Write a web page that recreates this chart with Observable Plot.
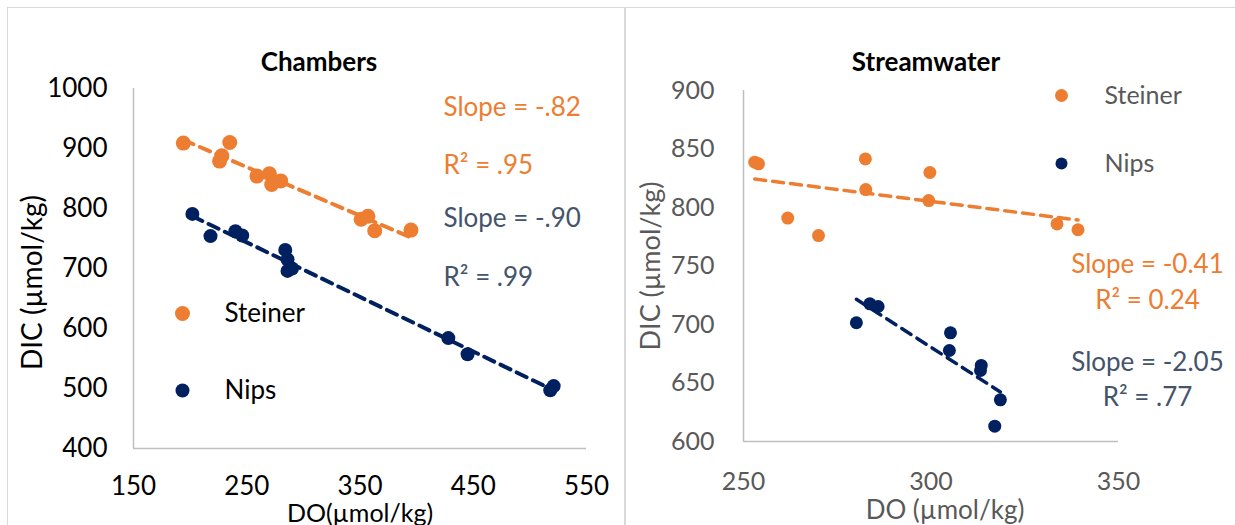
<!DOCTYPE html>
<html><head><meta charset="utf-8">
<script src="https://cdn.jsdelivr.net/npm/d3@7"></script>
<script src="https://cdn.jsdelivr.net/npm/@observablehq/plot@0.6"></script>
<style>
body{margin:0;background:#fff;}
#wrap{position:relative;width:1235px;height:525px;overflow:hidden;background:#fff;font-family:Lato,sans-serif;}
.panel{position:absolute;border:1px solid #D9D9D9;box-sizing:border-box;}
.chart{position:absolute;top:0;}
</style></head><body>
<div id="wrap">
<div class="panel" style="left:7px;top:7px;width:618px;height:600px"></div>
<div class="panel" style="left:625px;top:7px;width:700px;height:600px"></div>
<div id="left" class="chart" style="left:0px"></div>
<div id="right" class="chart" style="left:620px"></div>
</div>
<script>
// ---- Chambers panel data ----
const chamSteinerDO  = [194, 235, 228, 226, 259, 270, 272, 280, 351, 357, 363, 395];
const chamSteinerDIC = [909, 910, 888, 879, 854, 858, 840, 846, 782, 787, 763, 764];
const chamNipsDO     = [202, 218, 240, 246, 284, 286, 286, 290, 428, 445, 518, 521];
const chamNipsDIC    = [791, 754, 762, 755, 731, 715, 696, 700, 584, 557, 497, 504];
const chamXTicks = [150, 250, 350, 450, 550];
const chamYTicks = [400, 500, 600, 700, 800, 900, 1000];

// ---- Streamwater panel data ----
const strSteinerDO  = [253.0, 254.0, 261.8, 270.0, 282.5, 282.6, 299.7, 299.4, 333.6, 339.2];
const strSteinerDIC = [838.7, 837.3, 791.0, 776.0, 841.5, 815.3, 829.9, 805.9, 786.0, 781.0];
const strNipsDO     = [280.1, 283.7, 285.9, 305.2, 304.9, 313.4, 313.2, 318.5, 317.0];
const strNipsDIC    = [701.5, 717.7, 715.4, 692.9, 677.8, 665.0, 660.7, 635.6, 613.1];
const strXTicks = [250, 300, 350];
const strYTicks = [600, 650, 700, 750, 800, 850, 900];

const series = ["Steiner", "Nips"];
const chamLabels = ["Slope = -.82", "R² = .95", "Slope = -.90", "R² = .99"];
const strLabels  = ["Slope = -0.41", "R² = 0.24", "Slope = -2.05", "R² = .77"];

const ORANGE = "#ED7D31", NAVY = "#002060", SLATE = "#44546A", AXIS = "#BFBFBF";
const FONT = "Lato, sans-serif";

const rows = (xs, ys, site) => xs.map((x, i) => ({site, DO: x, DIC: ys[i]}));
const chamS = rows(chamSteinerDO, chamSteinerDIC, series[0]);
const chamN = rows(chamNipsDO, chamNipsDIC, series[1]);
const strS = rows(strSteinerDO, strSteinerDIC, series[0]);
const strN = rows(strNipsDO, strNipsDIC, series[1]);

const txt = (t, anchor, o) => Plot.text([t], {frameAnchor: anchor, textAnchor: "middle", lineAnchor: "middle", fontFamily: FONT, ...o});
const lbl = (t, o) => txt(t, "top-left", o);
const mk = (o) => Plot.dot([0], {frameAnchor: "top-left", ...o});

const left = Plot.plot({
  width: 620, height: 525,
  marginLeft: 133, marginRight: 34, marginTop: 88, marginBottom: 77,
  style: {fontFamily: FONT, background: "transparent"},
  x: {domain: [150, 550]},
  y: {domain: [400, 1000]},
  marks: [
    Plot.ruleY([400], {stroke: AXIS, strokeWidth: 1.5}),
    Plot.ruleX([150], {stroke: AXIS, strokeWidth: 1.5}),
    Plot.axisX({ticks: chamXTicks, label: null, tickSize: 0, tickPadding: 28, fontSize: 26, fill: "#000", tickFormat: d => String(d)}),
    Plot.axisY({ticks: chamYTicks, label: null, tickSize: 0, tickPadding: 26, fontSize: 26, fill: "#000", tickFormat: d => String(d)}),
    Plot.dot(chamS, {x: "DO", y: "DIC", fill: ORANGE, r: 7.5}),
    Plot.dot(chamN, {x: "DO", y: "DIC", fill: NAVY, r: 7}),
    Plot.linearRegressionY(chamS, {x: "DO", y: "DIC", stroke: ORANGE, strokeWidth: 4, strokeDasharray: "11,7", ci: 0}),
    Plot.linearRegressionY(chamN, {x: "DO", y: "DIC", stroke: NAVY, strokeWidth: 4, strokeDasharray: "11,7", ci: 0}),
    txt("Chambers", "top", {dx: -41, dy: -26, fontSize: 26, fontWeight: "bold", fill: "#000"}),
    txt("DIC (µmol/kg)", "left", {rotate: -90, dx: -100, dy: 14, fontSize: 28, fill: "#000"}),
    txt("DO(µmol/kg)", "bottom", {dy: 65, fontSize: 25, fill: "#000"}),
    lbl(chamLabels[0], {dx: 310, dy: 19, textAnchor: "start", fontSize: 26, fill: ORANGE}),
    lbl(chamLabels[1], {dx: 310, dy: 77, textAnchor: "start", fontSize: 26, fill: ORANGE}),
    lbl(chamLabels[2], {dx: 310, dy: 130, textAnchor: "start", fontSize: 26, fill: SLATE}),
    lbl(chamLabels[3], {dx: 310, dy: 189, textAnchor: "start", fontSize: 26, fill: SLATE}),
    mk({dx: 49, dy: 225, r: 7.5, fill: ORANGE}),
    mk({dx: 49, dy: 302, r: 7, fill: NAVY}),
    lbl(series[0], {dx: 91, dy: 225, textAnchor: "start", fontSize: 26, fill: "#000"}),
    lbl(series[1], {dx: 91, dy: 302, textAnchor: "start", fontSize: 26, fill: "#000"})
  ]
});
document.getElementById("left").append(left);

const GRAY = "#595959";
const right = Plot.plot({
  width: 615, height: 525,
  marginLeft: 123, marginRight: 117, marginTop: 90, marginBottom: 84,
  style: {fontFamily: FONT, background: "transparent"},
  x: {domain: [250, 350]},
  y: {domain: [600, 900]},
  marks: [
    Plot.ruleY([600], {stroke: AXIS, strokeWidth: 1.5}),
    Plot.ruleX([250], {stroke: AXIS, strokeWidth: 1.5}),
    Plot.axisX({ticks: strXTicks, label: null, tickSize: 0, tickPadding: 31, fontSize: 25, fill: GRAY, tickFormat: d => String(d)}),
    Plot.axisY({ticks: strYTicks, label: null, tickSize: 0, tickPadding: 29, fontSize: 25, fill: GRAY, tickFormat: d => String(d)}),
    Plot.dot(strS, {x: "DO", y: "DIC", fill: ORANGE, r: 6.5}),
    Plot.dot(strN, {x: "DO", y: "DIC", fill: NAVY, r: 6.5}),
    Plot.linearRegressionY(strS, {x: "DO", y: "DIC", stroke: ORANGE, strokeWidth: 3.5, strokeDasharray: "11,7", ci: 0}),
    Plot.linearRegressionY(strN, {x: "DO", y: "DIC", stroke: NAVY, strokeWidth: 3.5, strokeDasharray: "11,7", ci: 0}),
    txt("Streamwater", "top", {dx: -5, dy: -28, fontSize: 26, fontWeight: "bold", fill: "#000"}),
    txt("DIC (µmol/kg)", "left", {rotate: -90, dx: -92, dy: 0, fontSize: 27, fill: GRAY}),
    txt("DO (µmol/kg)", "bottom", {dy: 69, dx: 14, fontSize: 26, fill: GRAY}),
    mk({dx: 318, dy: 5, r: 6.5, fill: ORANGE}),
    mk({dx: 318, dy: 73, r: 6, fill: NAVY}),
    lbl(series[0], {dx: 361, dy: 5, textAnchor: "start", fontSize: 25, fill: GRAY}),
    lbl(series[1], {dx: 361, dy: 73, textAnchor: "start", fontSize: 25, fill: GRAY}),
    lbl(strLabels[0], {dx: 404, dy: 174, fontSize: 26, fill: ORANGE}),
    lbl(strLabels[1], {dx: 404, dy: 210, fontSize: 26, fill: ORANGE}),
    lbl(strLabels[2], {dx: 404, dy: 272, fontSize: 26, fill: SLATE}),
    lbl(strLabels[3], {dx: 404, dy: 307, fontSize: 26, fill: SLATE})
  ]
});
document.getElementById("right").append(right);
</script>
</body></html>
